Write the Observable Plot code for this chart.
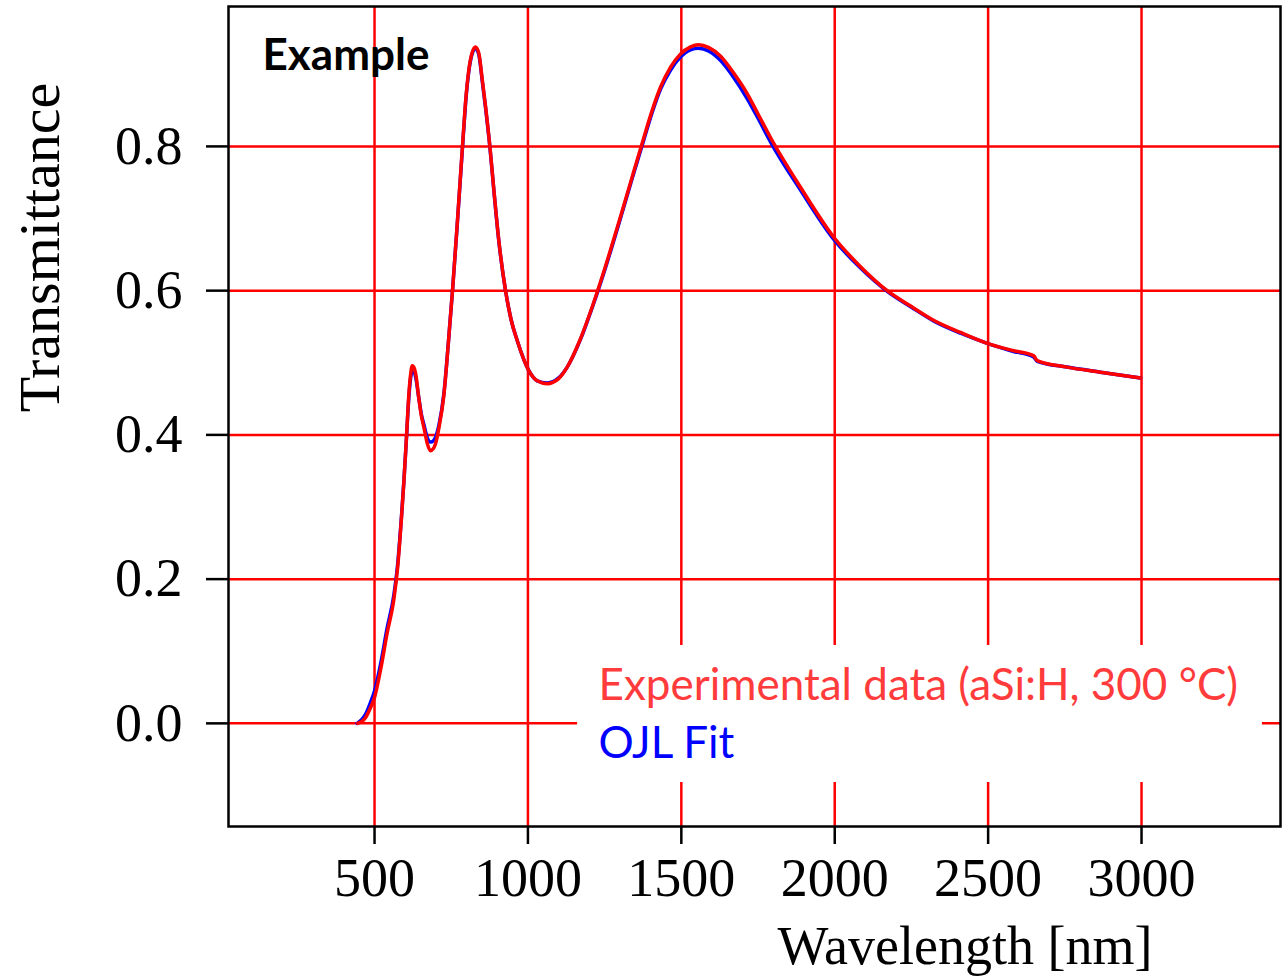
<!DOCTYPE html>
<html>
<head>
<meta charset="utf-8">
<script src="https://cdn.jsdelivr.net/npm/d3@7"></script>
<script src="https://cdn.jsdelivr.net/npm/@observablehq/plot@0.6"></script>
<style>
  html, body { margin: 0; padding: 0; background: #fff; }
  #chart svg { display: block; }
</style>
</head>
<body>
<div id="chart"></div>
<script>
// Wavelength [nm] sample points
const expWavelength = [445, 460, 471, 485, 500, 520, 541, 563, 575, 588, 596, 604, 612, 618, 623, 628, 634, 644, 652, 661, 672, 682, 692, 699, 710, 726, 742, 755, 770, 789, 797, 807, 818, 829, 840, 851, 862, 876, 890, 905, 927, 945, 965, 1003, 1030, 1063, 1100, 1128, 1171, 1210, 1250, 1300, 1340, 1377, 1405, 1432, 1465, 1497, 1530, 1556, 1590, 1628, 1670, 1715, 1750, 1791, 1889, 1997, 2080, 2171, 2250, 2322, 2410, 2497, 2580, 2648, 2660, 2757, 2866, 2997];
// Experimental transmittance (aSi:H, 300 °C)
const expT = [0.000, 0.003, 0.008, 0.020, 0.036, 0.075, 0.125, 0.172, 0.215, 0.286, 0.337, 0.396, 0.457, 0.485, 0.496, 0.494, 0.485, 0.452, 0.428, 0.410, 0.388, 0.378, 0.381, 0.388, 0.410, 0.455, 0.535, 0.605, 0.695, 0.815, 0.863, 0.905, 0.930, 0.938, 0.929, 0.893, 0.855, 0.800, 0.735, 0.670, 0.600, 0.560, 0.531, 0.489, 0.475, 0.471, 0.478, 0.494, 0.533, 0.578, 0.630, 0.700, 0.758, 0.811, 0.850, 0.882, 0.910, 0.928, 0.938, 0.941, 0.937, 0.925, 0.902, 0.873, 0.845, 0.812, 0.743, 0.674, 0.635, 0.600, 0.578, 0.559, 0.542, 0.527, 0.517, 0.510, 0.503, 0.494, 0.487, 0.479];

// OJL fit
const fitWavelength = [443, 458, 470, 485, 500, 520, 541, 563, 575, 588, 596, 604, 612, 618, 623, 628, 634, 644, 652, 661, 672, 682, 692, 699, 710, 726, 742, 755, 770, 789, 797, 807, 818, 829, 840, 851, 862, 876, 890, 905, 927, 945, 965, 1003, 1030, 1063, 1100, 1128, 1171, 1210, 1250, 1300, 1340, 1377, 1405, 1432, 1465, 1497, 1530, 1556, 1590, 1628, 1670, 1715, 1750, 1791, 1889, 1997, 2080, 2171, 2250, 2322, 2410, 2497, 2580, 2648, 2660, 2757, 2866, 2997];
const fitT = [0.000, 0.005, 0.012, 0.027, 0.045, 0.083, 0.132, 0.178, 0.219, 0.288, 0.338, 0.395, 0.453, 0.480, 0.489, 0.488, 0.480, 0.452, 0.430, 0.414, 0.396, 0.390, 0.392, 0.397, 0.414, 0.457, 0.535, 0.605, 0.694, 0.813, 0.861, 0.903, 0.928, 0.936, 0.927, 0.891, 0.853, 0.799, 0.734, 0.669, 0.600, 0.560, 0.531, 0.489, 0.475, 0.472, 0.479, 0.494, 0.532, 0.577, 0.628, 0.698, 0.756, 0.808, 0.847, 0.879, 0.906, 0.924, 0.934, 0.936, 0.932, 0.919, 0.896, 0.866, 0.839, 0.806, 0.739, 0.671, 0.633, 0.599, 0.577, 0.558, 0.541, 0.527, 0.516, 0.508, 0.502, 0.494, 0.487, 0.479];

const xTicks = [500, 1000, 1500, 2000, 2500, 3000];
const yTicks = [0.0, 0.2, 0.4, 0.6, 0.8];
const xDomain = [24, 3453];
const yDomain = [-0.143, 0.994];

const xLabel = "Wavelength [nm]";
const yLabel = "Transmittance";
const legendLabels = ["Experimental data (aSi:H, 300 °C)", "OJL Fit"];
const titleText = "Example";

// legend background box, in data units
const legendBox = [{x1: 1162, x2: 3394, y1: -0.082, y2: 0.108}];

const experimental = expWavelength.map((w, i) => ({w, t: expT[i]}));
const fit = fitWavelength.map((w, i) => ({w, t: fitT[i]}));

const serif = "'Liberation Serif', 'Times New Roman', serif";
const sans = "Lato, 'Open Sans', sans-serif";

const chart = Plot.plot({
  width: 1283,
  height: 977,
  marginTop: 6,
  marginRight: 3,
  marginBottom: 151,
  marginLeft: 228,
  style: {fontFamily: serif, fontSize: "54px", background: "#fff", color: "#000"},
  x: {domain: xDomain, ticks: xTicks},
  y: {domain: yDomain, ticks: yTicks},
  marks: [
    Plot.gridX(xTicks, {stroke: "#ff0000", strokeOpacity: 1, strokeWidth: 2.5}),
    Plot.gridY(yTicks, {stroke: "#ff0000", strokeOpacity: 1, strokeWidth: 2.5}),
    Plot.rect(legendBox, {x1: "x1", x2: "x2", y1: "y1", y2: "y2", fill: "white"}),
    Plot.line(fit, {x: "w", y: "t", stroke: "#0000ff", strokeWidth: 3.5, curve: "monotone-x"}),
    Plot.line(experimental, {x: "w", y: "t", stroke: "#ff0000", strokeWidth: 3.5, curve: "monotone-x"}),
    Plot.frame({stroke: "#000", strokeWidth: 2.5}),
    Plot.axisX(xTicks, {tickSize: 18, tickPadding: 13, strokeWidth: 2.5, fontSize: 54, fontFamily: serif, label: null, tickFormat: d => String(d)}),
    Plot.axisY(yTicks, {tickSize: 22, tickPadding: 24, strokeWidth: 2.5, fontSize: 54, fontFamily: serif, label: null, tickFormat: d3.format(".1f")}),
    Plot.text([xLabel], {frameAnchor: "bottom-right", dx: -128, dy: 137, textAnchor: "end", lineAnchor: "bottom", fontSize: 54, fontFamily: serif, fill: "#000"}),
    Plot.text([yLabel], {frameAnchor: "left", dx: -188, dy: -169, rotate: -90, textAnchor: "middle", fontSize: 58, fontFamily: serif, fill: "#000"}),
    Plot.text([legendLabels[0]], {x: 1230, y: 0.032, textAnchor: "start", lineAnchor: "bottom", fontSize: 44, fontFamily: sans, fill: "#ff3b3b"}),
    Plot.text([legendLabels[1]], {x: 1230, y: -0.0485, textAnchor: "start", lineAnchor: "bottom", fontSize: 44, fontFamily: sans, fill: "#0000ff"}),
    Plot.text([titleText], {x: 135, y: 0.906, textAnchor: "start", lineAnchor: "bottom", fontSize: 44, fontWeight: "bold", fontFamily: sans, fill: "#000"})
  ]
});
document.getElementById("chart").appendChild(chart);
</script>
</body>
</html>
